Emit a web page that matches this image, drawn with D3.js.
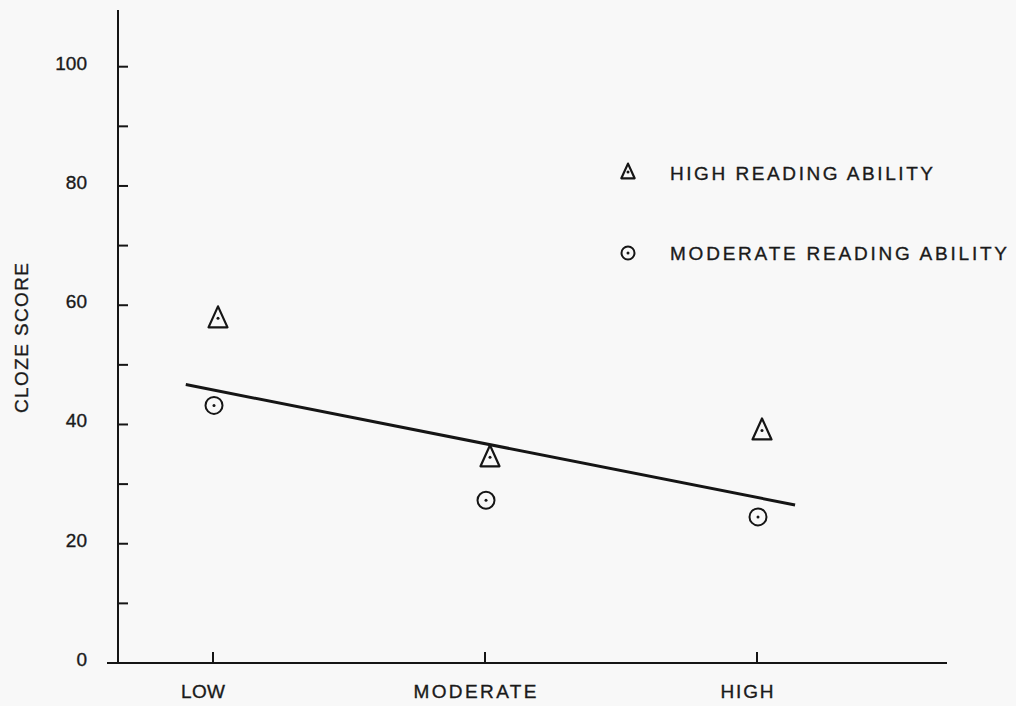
<!DOCTYPE html>
<html>
<head>
<meta charset="utf-8">
<script src="https://cdn.jsdelivr.net/npm/d3@7"></script>
<style>
  body { margin:0; background:#f8f8f8; }
  text { font-family:"Liberation Sans", Arial, sans-serif; fill:#1a1a1a; stroke:#1a1a1a; stroke-width:0.35px; }
</style>
</head>
<body>
<svg id="chart"></svg>
<script>
// categories on the x axis
var categories = ["LOW", "MODERATE", "HIGH"];
// mean cloze scores
var highAbility = [57.8, 34.5, 39.0];
var moderateAbility = [43.2, 27.3, 24.5];
// fitted line, end points in (category index, score)
var fitX = [-0.1, 2.14];
var fitY = [46.7, 26.5];
// y ticks
var majorTicks = [0, 20, 40, 60, 80, 100];
var minorTicks = [10, 30, 50, 70, 90];
var legendLabels = ["HIGH READING ABILITY", "MODERATE READING ABILITY"];

var screen = {width:1016, height:706};
var ink = "#151515";
var fontSize = "19px";

var svg = d3.select("#chart")
    .attr("width", screen.width)
    .attr("height", screen.height);

//scales
var yScale = d3.scaleLinear().domain([0,100]).range([663,66.7]);
var xScale = d3.scaleLinear().domain([0,2]).range([213,757]);

var axisX = 118;
var baseY = yScale(0);

//y axis line
svg.append("line")
    .attr("x1",axisX).attr("x2",axisX)
    .attr("y1",10).attr("y2",baseY)
    .attr("stroke",ink).attr("stroke-width",2);

//x axis line
svg.append("line")
    .attr("x1",107).attr("x2",947)
    .attr("y1",baseY).attr("y2",baseY)
    .attr("stroke",ink).attr("stroke-width",2);

//y ticks
svg.selectAll(".ytick")
    .data(majorTicks.concat(minorTicks))
    .enter()
    .append("line")
    .attr("x1",axisX).attr("x2",axisX+10)
    .attr("y1",function(d){return yScale(d);})
    .attr("y2",function(d){return yScale(d);})
    .attr("stroke",ink).attr("stroke-width",2);

svg.selectAll(".ylabel")
    .data(majorTicks)
    .enter()
    .append("text")
    .attr("x",87)
    .attr("y",function(d){return yScale(d)+3;})
    .attr("text-anchor","end")
    .style("font-size",fontSize)
    .text(function(d){return d;});

//x ticks
svg.selectAll(".xtick")
    .data(categories)
    .enter()
    .append("line")
    .attr("x1",function(d,i){return xScale(i);})
    .attr("x2",function(d,i){return xScale(i);})
    .attr("y1",baseY-11).attr("y2",baseY)
    .attr("stroke",ink).attr("stroke-width",2);

var xLabelWidths = {"LOW":44, "MODERATE":123, "HIGH":53};
svg.selectAll(".xlabel")
    .data(categories)
    .enter()
    .append("text")
    .attr("x",function(d,i){return xScale(i)-10;})
    .attr("y",698)
    .attr("text-anchor","middle")
    .attr("textLength",function(d){return xLabelWidths[d];})
    .attr("lengthAdjust","spacing")
    .style("font-size",fontSize)
    .text(function(d){return d;});

//y title
svg.append("text")
    .attr("transform","translate(28,338) rotate(-90)")
    .attr("text-anchor","middle")
    .attr("textLength",150)
    .attr("lengthAdjust","spacing")
    .style("font-size",fontSize)
    .text("CLOZE SCORE");

//fit line
svg.append("line")
    .attr("x1",xScale(fitX[0])).attr("y1",yScale(fitY[0]))
    .attr("x2",xScale(fitX[1])).attr("y2",yScale(fitY[1]))
    .attr("stroke",ink).attr("stroke-width",3);

//marker helpers
var triangle = function(g,cx,cy,s)
{
    g.append("path")
        .attr("d","M"+cx+","+(cy-12*s)+"L"+(cx+9.5*s)+","+(cy+9*s)+"L"+(cx-9.5*s)+","+(cy+9*s)+"Z")
        .attr("fill","none").attr("stroke",ink).attr("stroke-width",2.2)
        .attr("stroke-linejoin","round");
    g.append("circle").attr("cx",cx).attr("cy",cy).attr("r",1.5).attr("fill",ink);
}
var ring = function(g,cx,cy,r)
{
    g.append("circle").attr("cx",cx).attr("cy",cy).attr("r",r)
        .attr("fill","none").attr("stroke",ink).attr("stroke-width",2);
    g.append("circle").attr("cx",cx).attr("cy",cy).attr("r",1.5).attr("fill",ink);
}

var marks = svg.append("g");
highAbility.forEach(function(v,i){ triangle(marks,xScale(i)+5,yScale(v),1); });
moderateAbility.forEach(function(v,i){ ring(marks,xScale(i)+1,yScale(v),8.5); });

//legend
var legend = svg.append("g");
triangle(legend,628,172,0.7);
ring(legend,628,253,6.5);
var legendWidths = [263,337];
legend.selectAll("text")
    .data(legendLabels)
    .enter()
    .append("text")
    .attr("x",670)
    .attr("y",function(d,i){return i==0 ? 180 : 260;})
    .attr("textLength",function(d,i){return legendWidths[i];})
    .attr("lengthAdjust","spacing")
    .style("font-size",fontSize)
    .text(function(d){return d;});
</script>
</body>
</html>
